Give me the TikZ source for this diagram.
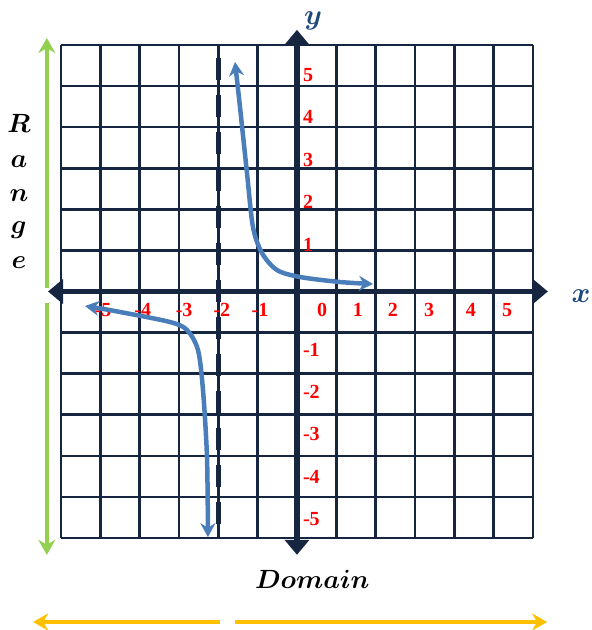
\documentclass[tikz,border=0pt]{standalone}
\usepackage{fontspec}
\setmainfont{Liberation Serif}
\usepackage{amsmath}
\usepackage{bm}
\usetikzlibrary{arrows.meta}
\definecolor{gridnavy}{RGB}{22,38,64}
\definecolor{curveblue}{RGB}{74,126,187}
\definecolor{axislbl}{RGB}{31,73,125}
\definecolor{rangegreen}{RGB}{146,208,80}
\definecolor{domorange}{RGB}{255,192,0}

\begin{document}
\begin{tikzpicture}[x=39.33pt,y=41.08pt,
  gridline/.style={gridnavy,line width=2.6pt},
  axisline/.style={gridnavy,line width=5.5pt,
    {Triangle[length=15pt,width=24pt]}-{Triangle[length=15pt,width=24pt]}},
  branch/.style={curveblue,line width=4.5pt,line cap=round,
    {Stealth[length=14pt,width=15pt]}-{Stealth[length=14pt,width=15pt]}},
  numlbl/.style={text=red,font=\fontsize{20}{20}\selectfont\bfseries,inner sep=0pt},
  sidearrow/.style={line width=4.5pt,-{Stealth[length=15pt,width=17pt]}},
  bigword/.style={font=\fontsize{24.88}{26}\selectfont,inner sep=0pt,anchor=base}]
\useasboundingbox (-7.551,-8.240) rectangle (7.501,7.096);
% 网格
\draw[gridline] (-6,-6) grid[step=1] (6,6);
% 渐近线 x=-2
\draw[gridline,line width=5pt,dash pattern=on 22pt off 15pt] (-2,5.684) -- (-2,-6);
% 坐标轴
\draw[axisline] (-6.33,0) -- (6.38,0);
\draw[axisline] (0,-6.41) -- (0,6.37);
\node[bigword,text=axislbl,anchor=center] (xlbl) at (7.22,-0.11) {\scalebox{1.15}{$\bm{x}$}};
\node[bigword,text=axislbl] (ylbl) at (0.41,6.49) {\scalebox{1.15}{$\bm{y}$}};
% 刻度数字
\foreach \lx/\t [count=\i] in {-4.93/-5,-3.92/-4,-2.87/-3,-1.91/-2,-0.94/-1,
    0.64/0,1.55/1,2.44/2,3.36/3,4.42/4,5.34/5}
  \node[numlbl] (xl\i) at (\lx,-0.45) {\t};
\foreach \k in {1,...,5} {
  \node[numlbl,anchor=west] (yp\k) at (0.15,{1.035*\k+0.1}) {\k};
  \node[numlbl,anchor=west] (yn\k) at (0.15,{-1.03*\k-0.39}) {-\k};
}
% 两支曲线
\draw[branch] plot[smooth] coordinates {(-1.576,5.587) (-1.449,4.491) (-1.271,2.885)
  (-1.119,1.570) (-0.890,0.937) (-0.509,0.523) (0.076,0.353) (1.093,0.231) (1.932,0.183)};
\draw[branch] plot[smooth] coordinates {(-5.390,-0.353) (-4.500,-0.499) (-3.229,-0.743)
  (-2.797,-0.937) (-2.517,-1.424) (-2.390,-2.398) (-2.288,-4.029) (-2.263,-5.98)};
% Range（竖排）
\foreach \ch/\by [count=\i] in {R/3.88,a/3.03,n/2.18,g/1.40,e/0.57}
  \node[bigword] (rg\i) at (-7.07,\by) {\scalebox{1.06}{$\bm{\ch}$}};
\draw[sidearrow,rangegreen] (-6.36,0.085) -- (-6.36,6.17);
\draw[sidearrow,rangegreen] (-6.36,-0.28) -- (-6.36,-6.41);
% Domain
\node[bigword] (domain) at (0.39,-7.22) {\scalebox{1.06}{$\bm{Domain}$}};
\draw[sidearrow,domorange] (-1.958,-8.045) -- (-6.71,-8.045);
\draw[sidearrow,domorange] (-1.576,-8.045) -- (6.36,-8.045);
\end{tikzpicture}
\end{document}
